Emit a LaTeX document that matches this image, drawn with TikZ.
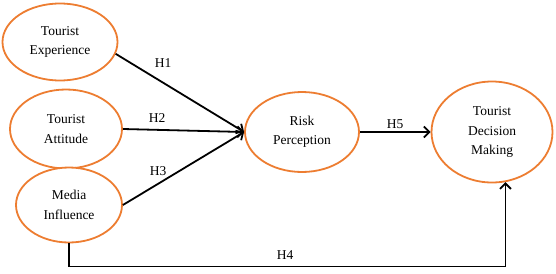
\documentclass[tikz,border=0pt]{standalone}
\usepackage{fontspec}
\setmainfont{Liberation Serif}
\usetikzlibrary{shapes.geometric,arrows.meta}
\definecolor{ora}{RGB}{237,125,49}
\begin{document}
\begin{tikzpicture}[x=1pt,y=-1pt,
  var/.style={ellipse,draw=ora,line width=1.8pt,fill=white,inner sep=0pt,align=center,
    font=\fontsize{13.5}{19.5}\selectfont},
  conn/.style={line width=1.8pt,-{Straight Barb[length=5.5pt,width=11pt,line width=1.8pt]}},
  lab/.style={font=\fontsize{13.5}{16}\selectfont,inner sep=0pt}]
\useasboundingbox (0,0) rectangle (556,273);
\node[var,minimum width=115pt,minimum height=77pt] (te) at (60,42) {Tourist\\Experience};
\node[var,minimum width=112pt,minimum height=79pt] (ta) at (66,129) {Tourist\\Attitude};
\node[var,minimum width=106pt,minimum height=75pt] (mi) at (69,205) {Media\\Influence};
\node[var,minimum width=114pt,minimum height=80pt] (rp) at (302,132) {Risk\\Perception};
\node[var,minimum width=121pt,minimum height=101pt] (td) at (492,132) {Tourist\\Decision\\Making};
\draw[conn] (te.-12) -- (rp.west);
\draw[conn] (ta.east) -- (rp.west);
\draw[conn] (mi.east) -- (rp.west);
\draw[conn] (rp.east) -- (td.west);
\draw[conn] (mi.south) -- ++(0,23) -| (td.-75);
\node[lab] (h1) at (163,63) {H1};
\node[lab] (h2) at (157,118) {H2};
\node[lab] (h3) at (158,171) {H3};
\node[lab] (h5) at (395,124) {H5};
\node[lab] (h4) at (285,255) {H4};
\end{tikzpicture}
\end{document}
